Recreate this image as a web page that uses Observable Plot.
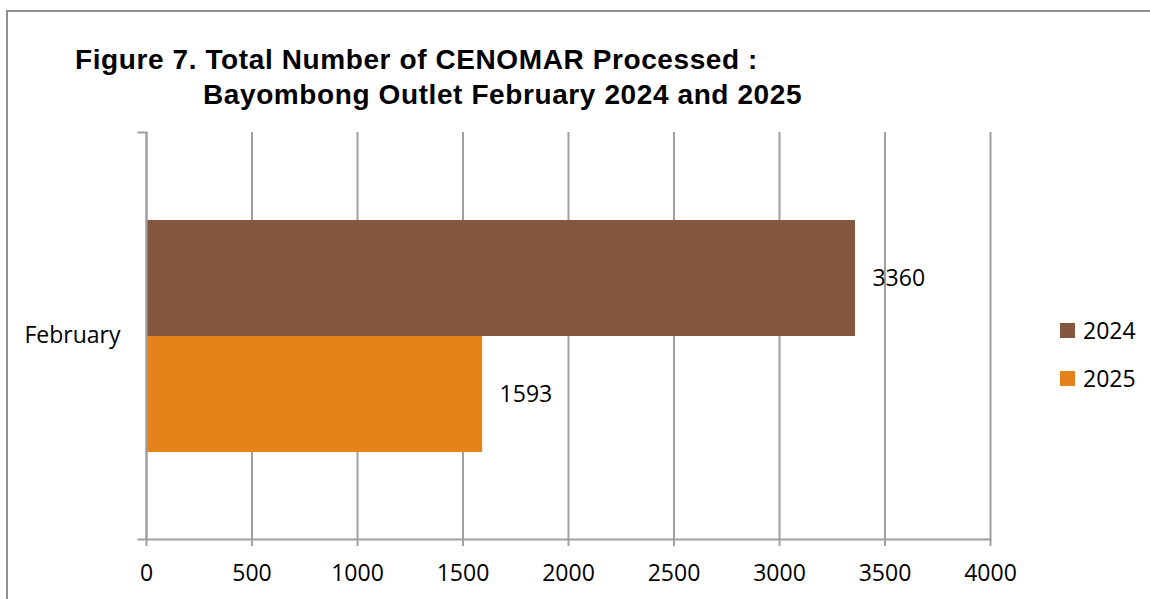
<!DOCTYPE html>
<html>
<head>
<meta charset="utf-8">
<script src="https://cdn.jsdelivr.net/npm/d3@7"></script>
<script src="https://cdn.jsdelivr.net/npm/@observablehq/plot@0.6"></script>
<style>
  html, body { margin: 0; padding: 0; background: #fff; }
  #wrap { position: relative; width: 1150px; height: 599px; overflow: hidden; background: #fff; }
  #border { position: absolute; left: 6px; top: 10px; width: 1200px; height: 700px; border: 2px solid #8f8f8f; box-sizing: border-box; }
  .title { position: absolute; font-family: "Liberation Sans", Arial, sans-serif; font-weight: bold; font-size: 28px; letter-spacing: 0.6px; line-height: 34px; color: #000; white-space: nowrap; }
  #chart { position: absolute; left: 0; top: 0; }
  #legend { position: absolute; left: 1060px; top: 0; font-family: "Open Sans", sans-serif; font-size: 23px; color: #000; }
  .item { position: absolute; left: 0; display: flex; align-items: center; white-space: nowrap; height: 30px; }
  .sw { width: 15px; height: 15px; margin-right: 8px; flex: none; }
</style>
</head>
<body>
<div id="wrap">
  <div id="border"></div>
  <div class="title" style="left:75px; top:43px;">Figure 7. Total Number of CENOMAR Processed :</div>
  <div class="title" style="left:203px; top:78px;">Bayombong Outlet February 2024 and 2025</div>
  <div id="chart"></div>
  <div id="legend"></div>
</div>
<script>
const categories = ["February"];
const years = ["2024", "2025"];
const values2024 = [3360];
const values2025 = [1593];
const xTicks = [0, 500, 1000, 1500, 2000, 2500, 3000, 3500, 4000];
const colors = ["#86573F", "#E5831A"];

const rows = [];
categories.forEach((c, i) => {
  rows.push({category: c, year: years[0], value: values2024[i]});
  rows.push({category: c, year: years[1], value: values2025[i]});
});

const gray = "#a0a0a0";
const W = 1150, H = 599, mL = 146, mR = 160, mT = 132, mB = 60;

const plot = Plot.plot({
  width: W,
  height: H,
  marginLeft: mL,
  marginRight: mR,
  marginTop: mT,
  marginBottom: mB,
  style: {fontFamily: "'Open Sans', sans-serif", fontSize: "23px", color: "#000", background: "transparent", overflow: "visible"},
  x: {domain: [xTicks[0], xTicks[xTicks.length - 1]], ticks: xTicks},
  fy: {domain: categories, padding: 0},
  y: {domain: years, paddingInner: 0, paddingOuter: 0.747, axis: null},
  color: {domain: years, range: colors},
  marks: [
    Plot.gridX(xTicks, {stroke: gray, strokeWidth: 2, strokeOpacity: 1}),
    Plot.barX(rows, {x: "value", y: "year", fy: "category", fill: "year"}),
    Plot.ruleX([xTicks[0]], {stroke: gray, strokeWidth: 2}),
    Plot.frame({anchor: "bottom", stroke: gray, strokeWidth: 2, insetLeft: -8}),
    Plot.frame({anchor: "top", stroke: gray, strokeWidth: 2, insetLeft: -8, insetRight: W - mL - mR}),
    Plot.axisX(xTicks, {anchor: "bottom", tickSize: 7, tickPadding: 18, stroke: gray, strokeWidth: 2, fill: "#000", label: null, tickFormat: d => String(d)}),
    Plot.axisFy({anchor: "left", tickSize: 0, tickPadding: 26, label: null, fill: "#000"}),
    Plot.text(rows, {x: "value", y: "year", fy: "category", text: d => String(d.value), dx: 17, textAnchor: "start", fill: "#000"})
  ]
});
document.getElementById("chart").appendChild(plot);

const color = plot.scale("color");
const legend = document.getElementById("legend");
const legendTops = [315, 363];
years.forEach((y, i) => {
  const it = document.createElement("div");
  it.className = "item";
  it.style.top = legendTops[i] + "px";
  const sw = document.createElement("span");
  sw.className = "sw";
  sw.style.background = colors[color.domain.indexOf(y)];
  const t = document.createElement("span");
  t.textContent = y;
  it.appendChild(sw);
  it.appendChild(t);
  legend.appendChild(it);
});
</script>
</body>
</html>
